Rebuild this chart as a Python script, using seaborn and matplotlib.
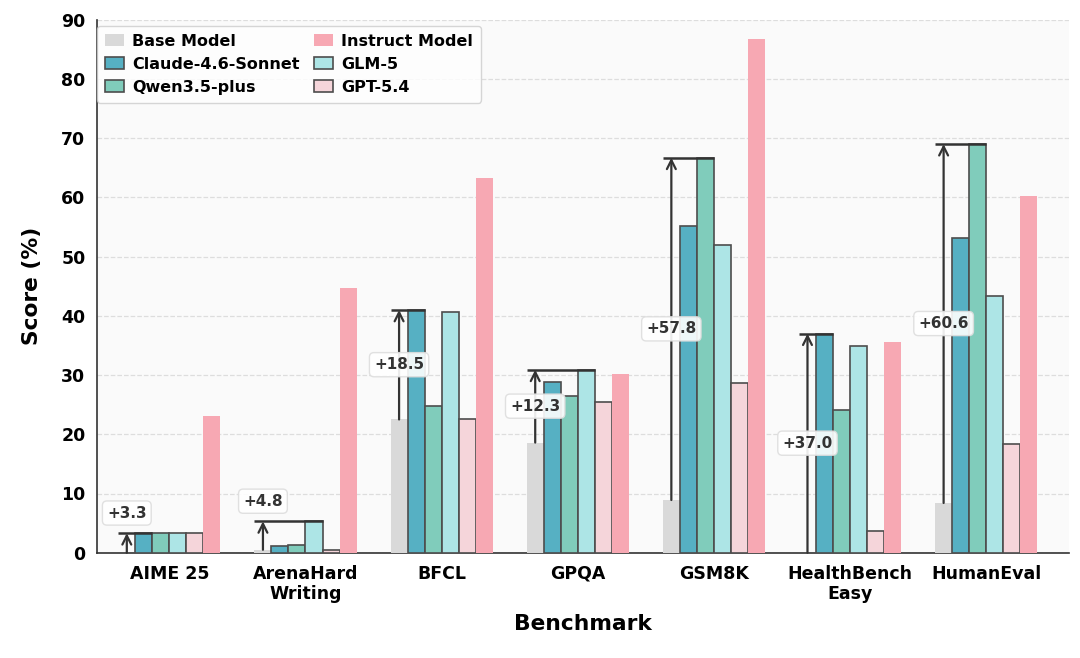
import pandas as pd
import seaborn as sns
import matplotlib.pyplot as plt
from matplotlib.patches import Patch

benchmarks = ['AIME 25', 'ArenaHard\nWriting', 'BFCL', 'GPQA', 'GSM8K', 'HealthBench\nEasy', 'HumanEval']
models = ['Base Model', 'Claude-4.6-Sonnet', 'Qwen3.5-plus', 'GLM-5', 'GPT-5.4', 'Instruct Model']
teachers = ['Claude-4.6-Sonnet', 'Qwen3.5-plus', 'GLM-5', 'GPT-5.4']

base = [0.0, 0.5, 22.5, 18.6, 8.9, 0.0, 8.4]
claude = [3.3, 1.1, 41.0, 28.8, 55.1, 37.0, 53.1]
qwen = [3.3, 1.3, 24.8, 26.5, 66.7, 24.1, 69.0]
glm = [3.3, 5.3, 40.6, 30.9, 51.9, 34.9, 43.3]
gpt = [3.3, 0.5, 22.6, 25.4, 28.6, 3.7, 18.3]
instruct = [23.1, 44.7, 63.3, 30.2, 86.8, 35.6, 60.2]

colors = ['#d9d9d9', '#56b0c3', '#80ccbb', '#ade5e6', '#f5d5da', '#f7a8b3']

series = [base, claude, qwen, glm, gpt, instruct]
df = pd.DataFrame([
    {'Benchmark': b, 'Model': m, 'Score': s[i]}
    for m, s in zip(models, series)
    for i, b in enumerate(benchmarks)
])

sns.set_style('white')
plt.rcParams['font.family'] = ['DejaVu Sans']
fig, ax = plt.subplots(figsize=(10.8, 6.58), dpi=100)
ax.set_facecolor('#fafafa')

width = 0.75
sns.barplot(data=df, x='Benchmark', y='Score', hue='Model', hue_order=models,
            order=benchmarks, palette=colors, width=width, gap=0, ax=ax,
            legend=False, saturation=1, linewidth=0)

for m, cont in zip(models, ax.containers):
    for p in cont:
        if m in teachers:
            p.set_edgecolor('#4d4d4d')
            p.set_linewidth(1.2)
        else:
            p.set_edgecolor('none')
        p.set_zorder(3)

bw = width / len(models)
for i in range(len(benchmarks)):
    tvals = [claude[i], qwen[i], glm[i], gpt[i]]
    top = max(tvals)
    k = tvals.index(top) + 1
    x0 = i - width / 2 + bw / 2
    gain = top - base[i]
    ax.hlines(top, x0 - bw / 2, i - width / 2 + (k + 1) * bw, color='#333333', lw=1.8, zorder=5)
    ax.annotate('', xy=(x0, top), xytext=(x0, base[i]),
                arrowprops=dict(arrowstyle='->', color='#333333', lw=1.6, mutation_scale=16,
                                shrinkA=0, shrinkB=0), zorder=5)
    ly = (top + base[i]) / 2 if gain > 10 else top + 3.4
    ax.text(x0, ly, f'+{gain:.1f}', ha='center', va='center', fontsize=11, fontweight='bold',
            color='#333333', zorder=6,
            bbox=dict(boxstyle='round,pad=0.3', fc='white', ec='#dddddd', alpha=0.9))

ax.set_xlim(-0.53, 6.61)
ax.set_ylim(0, 90)
ax.set_yticks(range(0, 91, 10))
ax.yaxis.grid(True, linestyle='--', color='#dddddd', lw=0.9, zorder=0)
ax.set_axisbelow(True)
sns.despine(ax=ax)
for s in ['left', 'bottom']:
    ax.spines[s].set_color('#333333')
    ax.spines[s].set_linewidth(1.2)
ax.tick_params(axis='both', labelsize=12.5, labelcolor='black', length=5, width=1.2, color='#333333')
for t in ax.get_xticklabels() + ax.get_yticklabels():
    t.set_fontweight('bold')
ax.set_xlabel('Benchmark', fontsize=15.7, fontweight='bold', labelpad=8, color='black')
ax.set_ylabel('Score (%)', fontsize=15.7, fontweight='bold', labelpad=14, color='black')

handles = []
for m, c in zip(models, colors):
    if m in teachers:
        handles.append(Patch(facecolor=c, edgecolor='#4d4d4d', lw=1.2, label=m))
    else:
        handles.append(Patch(facecolor=c, edgecolor='none', label=m))
order = [0, 1, 2, 5, 3, 4]
leg = ax.legend([handles[j] for j in order], [models[j] for j in order], ncol=2, loc='upper left',
                bbox_to_anchor=(-0.002, 0.992), prop={'weight': 'bold', 'size': 11.5},
                frameon=True, fancybox=True, labelcolor='black',
                handlelength=1.2, handletextpad=0.5, columnspacing=0.9, labelspacing=0.5,
                borderpad=0.5, borderaxespad=0.1)
leg.get_frame().set_edgecolor('#cccccc')

fig.subplots_adjust(left=0.09, right=0.99, top=0.97, bottom=0.16)
fig.savefig('out.png', dpi=100)
